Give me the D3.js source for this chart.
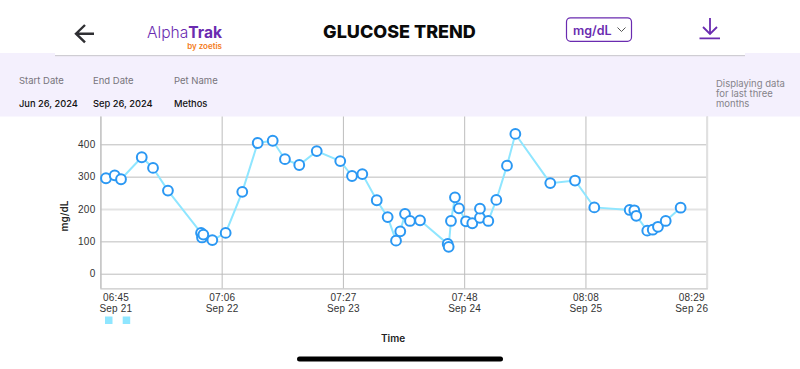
<!DOCTYPE html>
<html>
<head>
<meta charset="utf-8">
<script src="https://cdn.jsdelivr.net/npm/d3@7"></script>
<style>
    html, body { margin: 0; padding: 0; background: #fff; overflow: hidden; }
    svg { display: block; font-family: Inter, "Noto Sans", sans-serif; }
    .axis text { font-size: 10px; fill: #333; letter-spacing: 0.2px; }
</style>
</head>
<body>
<div id="chart"></div>
<script>
// Position along the axis, in days since the first tick
const dayOffsets = [0.046, 0.118, 0.170, 0.341, 0.434, 0.557, 0.830, 0.838, 0.849, 0.923,
    1.033, 1.170, 1.297, 1.421, 1.522, 1.640, 1.784, 1.978, 2.075, 2.160,
    2.279, 2.369, 2.438, 2.473, 2.512, 2.553, 2.636, 2.864, 2.872, 2.891,
    2.924, 2.957, 3.015, 3.067, 3.130, 3.130, 3.199, 3.265, 3.353, 3.422,
    3.710, 3.914, 4.073, 4.365, 4.403, 4.419, 4.510, 4.555, 4.598, 4.662, 4.785];
const glucose = [295, 304, 292, 360, 327, 257, 126, 112, 121, 104,
    126, 253, 404, 411, 354, 336, 379, 348, 302, 308,
    227, 175, 102, 131, 185, 163, 165, 92, 83, 163,
    236, 202, 162, 156, 173, 201, 163, 228, 334, 432,
    280, 288, 205, 197, 196, 179, 133, 136, 145, 163, 204];
const tickTimes = ['06:45', '07:06', '07:27', '07:48', '08:08', '08:29'];
const tickDates = ['Sep 21', 'Sep 22', 'Sep 23', 'Sep 24', 'Sep 25', 'Sep 26'];
const yTicks = [0, 100, 200, 300, 400];
const infoLabels = ['Start Date', 'End Date', 'Pet Name'];
const infoValues = ['Jun 26, 2024', 'Sep 26, 2024', 'Methos'];
const infoX = [19, 93, 174];
const noteLines = ['Displaying data', 'for last three', 'months'];

const width = 800;
const height = 369;
const purple = '#6a2bb0';

const svg = d3.select('#chart').append('svg')
    .attr('width', width)
    .attr('height', height)
    .attr('viewBox', [0, 0, width, height]);

// Lavender info band
svg.append('rect').attr('x', 0).attr('y', 53).attr('width', width).attr('height', 63.5).attr('fill', '#f4f0fd');
svg.append('rect').attr('x', 55).attr('y', 53).attr('width', 690).attr('height', 2).attr('fill', '#fff');
svg.append('rect').attr('x', 55).attr('y', 55).attr('width', 690).attr('height', 1.2).attr('fill', '#cfcdd3');

// Header
svg.append('path')
    .attr('d', 'M94,33.7H76M85,25L76,33.7L85,42.4')
    .attr('fill', 'none').attr('stroke', '#2f2f33').attr('stroke-width', 2.4);

const logo = svg.append('text').attr('x', 147).attr('y', 37.5)
    .style('font-size', '15.6px').attr('fill', purple);
logo.append('tspan').attr('font-weight', 300).text('Alpha');
logo.append('tspan').attr('font-weight', 700).text('Trak');
svg.append('text').attr('x', 222).attr('y', 49).attr('text-anchor', 'end')
    .style('font-size', '8px').attr('fill', '#f47b20').attr('font-weight', 600).text('by zoetis');

svg.append('text').attr('x', 399.5).attr('y', 38.3).attr('text-anchor', 'middle')
    .style('font-size', '18px').attr('font-weight', 800).attr('fill', '#0a0a0a')
    .text('GLUCOSE TREND');

svg.append('rect').attr('x', 566.5).attr('y', 17.8).attr('width', 65).attr('height', 23.5).attr('rx', 4)
    .attr('fill', '#fff').attr('stroke', purple).attr('stroke-width', 1.2);
svg.append('text').attr('x', 573).attr('y', 34.5)
    .style('font-size', '12.5px').attr('font-weight', 600).attr('fill', purple).text('mg/dL');
svg.append('path').attr('d', 'M617.5,27.5L621.5,31.5L625.5,27.5')
    .attr('fill', 'none').attr('stroke', '#555').attr('stroke-width', 1);

svg.append('path')
    .attr('d', 'M710,18V34M703,27L710,34L717,27M699.5,38.3H720')
    .attr('fill', 'none').attr('stroke', purple).attr('stroke-width', 1.8);

// Info band text
svg.append('g').selectAll('text').data(infoLabels).join('text')
    .attr('x', (d, i) => infoX[i]).attr('y', 83.5)
    .style('font-size', '9.5px').attr('fill', '#77757c').text(d => d);
svg.append('g').selectAll('text').data(infoValues).join('text')
    .attr('x', (d, i) => infoX[i]).attr('y', 107)
    .style('font-size', '9.3px').attr('font-weight', 500).attr('fill', '#111').text(d => d);
svg.append('g').selectAll('text').data(noteLines).join('text')
    .attr('x', 716).attr('y', (d, i) => 86.5 + i * 10.3)
    .style('font-size', '9.5px').attr('fill', '#85838a').text(d => d);

// Scales
const x = d3.scaleLinear().domain([0, 5]).range([100.4, 706.7]);
const y = d3.scaleLinear().domain([0, 400]).range([273.7, 144.3]);

// Y axis with full width gridlines
const yAxis = svg.append('g').attr('class', 'axis')
    .attr('transform', 'translate(100.4,0)')
    .call(d3.axisLeft(y).tickValues(yTicks).tickSize(-606.3).tickPadding(5));
yAxis.select('.domain').remove();
yAxis.selectAll('.tick line')
    .attr('stroke', d => d === 200 ? '#e3e3e3' : '#bdbdbd')
    .attr('stroke-width', d => d === 200 ? 2 : 1);

// X axis with full height gridlines
const xAxis = svg.append('g').attr('class', 'axis')
    .attr('transform', 'translate(0,288.3)')
    .call(d3.axisBottom(x).tickValues(d3.range(6)).tickSize(-171.8).tickFormat(''));
xAxis.select('.domain').attr('stroke', '#c8c8c8').attr('stroke-width', 1.2);
xAxis.selectAll('.tick line')
    .attr('stroke', d => d === 5 ? '#e0e0e0' : '#bdbdbd')
    .attr('stroke-width', d => d === 5 ? 2 : 1);

// First and last labels are pulled inside the plot
const labelShift = d => d === 0 ? 15 : d === 5 ? -15.5 : 0;
xAxis.selectAll('.tick text').remove();
xAxis.selectAll('.tick').append('text')
    .attr('x', labelShift).attr('y', 12.5).attr('dy', 0)
    .attr('text-anchor', 'middle').attr('fill', '#333')
    .text(d => tickTimes[d]);
xAxis.selectAll('.tick').append('text')
    .attr('x', labelShift).attr('y', 24).attr('dy', 0)
    .attr('text-anchor', 'middle').attr('fill', '#333')
    .text(d => tickDates[d]);

// Axis titles
svg.append('text')
    .attr('transform', 'translate(67.5,216) rotate(-90)')
    .attr('text-anchor', 'middle')
    .style('font-size', '10px').attr('font-weight', 600).attr('fill', '#222')
    .text('mg/dL');
svg.append('text').attr('x', 393).attr('y', 342).attr('text-anchor', 'middle')
    .style('font-size', '10px').attr('font-weight', 600).attr('fill', '#222')
    .text('Time');

// Series
const points = dayOffsets.map((d, i) => ({ day: d, value: glucose[i] }));
const line = d3.line().x(d => x(d.day)).y(d => y(d.value));

svg.append('path').datum(points)
    .attr('d', line)
    .attr('fill', 'none').attr('stroke', '#8fe6ff').attr('stroke-width', 2);

svg.append('g').selectAll('circle').data(points).join('circle')
    .attr('cx', d => x(d.day))
    .attr('cy', d => y(d.value))
    .attr('r', 4.9)
    .attr('fill', '#fff').attr('stroke', '#2b98f3').attr('stroke-width', 2);

// Legend squares
svg.append('g').selectAll('rect').data([105, 122.7]).join('rect')
    .attr('x', d => d).attr('y', 316.5).attr('width', 7.5).attr('height', 7.5)
    .attr('fill', '#8fe6ff');

// Home indicator
svg.append('rect').attr('x', 297).attr('y', 356.5).attr('width', 206).attr('height', 5).attr('rx', 2.5).attr('fill', '#000');
</script>
</body>
</html>
